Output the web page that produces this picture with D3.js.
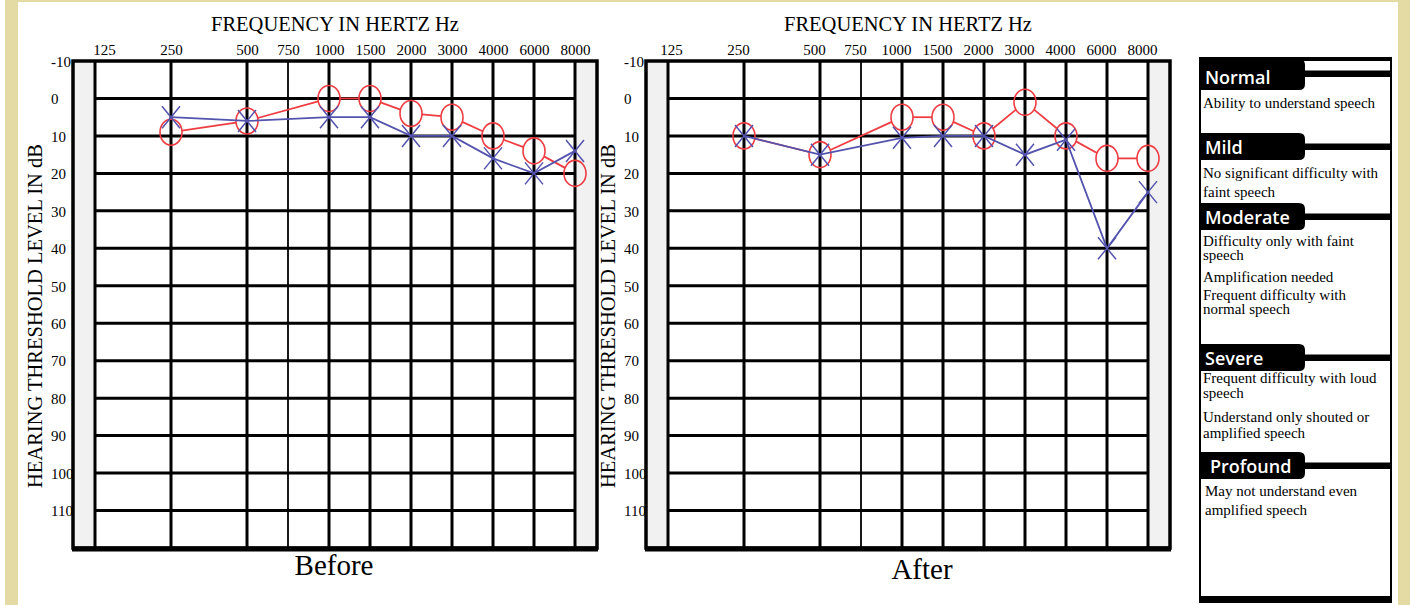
<!DOCTYPE html>
<html>
<head>
<meta charset="utf-8">
<script src="https://cdn.jsdelivr.net/npm/d3@7"></script>
<style>
  body { margin: 0; background: #fff; }
</style>
</head>
<body>
<div id="viz"></div>
<script>
// audiogram frequencies (x) and hearing level ticks (y)
var freqs = [125, 250, 500, 750, 1000, 1500, 2000, 3000, 4000, 6000, 8000];
var dbTicks = [-10, 0, 10, 20, 30, 40, 50, 60, 70, 80, 90, 100, 110];
var testFreqs = [250, 500, 1000, 1500, 2000, 3000, 4000, 6000, 8000];

// O = right ear (red), X = left ear (blue), in dB HL
var beforeRightEar = [9, 6, 0, 0, 4, 5, 10, 14, 20];
var beforeLeftEar = [5, 6, 5, 5, 10, 10, 16, 20, 14];
var afterRightEar = [10, 15, 5, 5, 10, 1, 10, 16, 16];
var afterLeftEar = [10, 15, 10.5, 10, 10, 15, 11, 40, 25];

// legend
var gradeNames = ["Normal", "Mild", "Moderate", "Severe", "Profound"];
var gradeNotes = [
    ["Ability to understand speech"],
    ["No significant difficulty with", "faint speech"],
    ["Difficulty only with faint", "speech", "Amplification needed", "Frequent difficulty with", "normal speech"],
    ["Frequent difficulty with loud", "speech", "Understand only shouted or", "amplified speech"],
    ["May not understand even", "amplified speech"]
];

var serif = "'Liberation Serif', 'Times New Roman', serif";
var red = "#ee3d42";
var blue = "#5353ae";
var beige = "#e3dba3";

var svg = d3.select("#viz").append("svg")
    .attr("width", 1410)
    .attr("height", 605);

svg.append("rect").attr("width", 1410).attr("height", 605).attr("fill", "#fff");
svg.append("rect").attr("x", 5).attr("y", 0).attr("width", 13).attr("height", 605).attr("fill", beige);
svg.append("rect").attr("x", 5).attr("y", 0).attr("width", 1405).attr("height", 2).attr("fill", beige);
svg.append("rect").attr("x", 1398).attr("y", 0).attr("width", 12).attr("height", 605).attr("fill", beige);

// half-octave frequencies sit midway between octaves
function octavePos(f) {
    var k = Math.log2(f / 125);
    if (Number.isInteger(k)) return k;
    return Math.log2(f / 1.5 / 125) + 0.5;
}

function drawAudiogram(gridLeft, labelShift, captionX, captionY, caption, rightEar, leftEar) {
    var x = d3.scaleLinear().domain([0, 2, 6]).range([gridLeft, gridLeft + 152, gridLeft + 480]);
    var y = d3.scaleLinear().domain([-10, 120]).range([61, 548]);
    var fx = function (f) { return x(octavePos(f)); };
    var frameL = gridLeft - 22, frameR = gridLeft + 502;
    var g = svg.append("g");

    // light side strips
    g.append("rect").attr("x", frameL).attr("y", y(-10)).attr("width", 22)
        .attr("height", y(120) - y(-10)).attr("fill", "#f1f1f1");
    g.append("rect").attr("x", fx(8000)).attr("y", y(-10)).attr("width", frameR - fx(8000))
        .attr("height", y(120) - y(-10)).attr("fill", "#f1f1f1");

    // grid
    g.append("g").selectAll("line")
        .data(dbTicks.filter(function (d) { return d >= 0; }))
        .join("line")
        .attr("x1", fx(125)).attr("x2", fx(8000))
        .attr("y1", function (d) { return y(d); })
        .attr("y2", function (d) { return y(d); })
        .attr("stroke", "#000").attr("stroke-width", 3);

    g.append("g").selectAll("line")
        .data(freqs)
        .join("line")
        .attr("x1", fx).attr("x2", fx)
        .attr("y1", y(-10)).attr("y2", y(120))
        .attr("stroke", "#000")
        .attr("stroke-width", function (d) { return d === 750 ? 1.8 : 3; });

    // frame
    g.append("rect").attr("x", frameL).attr("y", y(-10))
        .attr("width", frameR - frameL).attr("height", y(120) - y(-10))
        .attr("fill", "none").attr("stroke", "#000").attr("stroke-width", 3.5);
    g.append("line").attr("x1", frameL - 1).attr("x2", frameR + 1)
        .attr("y1", y(120) + 1).attr("y2", y(120) + 1)
        .attr("stroke", "#000").attr("stroke-width", 5);

    // frequency labels
    var xAxis = d3.axisTop(x)
        .tickValues(freqs.map(octavePos))
        .tickFormat(function (d, i) { return freqs[i]; })
        .tickSize(0).tickPadding(0);
    var xa = g.append("g").attr("transform", "translate(0,55)").call(xAxis);
    xa.select(".domain").remove();
    xa.selectAll("text")
        .attr("font-family", serif).attr("font-size", 15).attr("fill", "#000")
        .attr("x", function (d) { return labelShift + (d === 0 ? 9 : 0); });

    // dB labels
    var yAxis = d3.axisLeft(y).tickValues(dbTicks).tickSize(0)
        .tickFormat(function (d) { return String(d); });
    var ya = g.append("g").attr("transform", "translate(" + (frameL - 22) + ",0)").call(yAxis);
    ya.select(".domain").remove();
    ya.selectAll("text")
        .attr("font-family", serif).attr("font-size", 15).attr("fill", "#000")
        .attr("text-anchor", "start").attr("x", 0).attr("dy", "0.35em");

    // titles
    g.append("text").attr("x", (fx(125) + fx(8000)) / 2).attr("y", 31)
        .attr("text-anchor", "middle").attr("font-family", serif).attr("font-size", 20.5)
        .text("FREQUENCY IN HERTZ Hz");
    g.append("text")
        .attr("transform", "translate(" + (frameL - 38) + ",316) rotate(-90)")
        .attr("text-anchor", "middle").attr("dy", "0.35em")
        .attr("font-family", serif).attr("font-size", 20.5)
        .text("HEARING THRESHOLD LEVEL IN dB");
    g.append("text").attr("x", captionX).attr("y", captionY)
        .attr("text-anchor", "middle").attr("font-family", serif).attr("font-size", 29)
        .text(caption);

    // right ear: circles joined edge to edge
    var rx = 11, ry = 13;
    var rPts = testFreqs.map(function (f, i) { return [fx(f), y(rightEar[i])]; });
    var segs = d3.pairs(rPts).map(function (p) {
        var dx = p[1][0] - p[0][0], dy = p[1][1] - p[0][1];
        var t = 1 / Math.sqrt((dx / rx) * (dx / rx) + (dy / ry) * (dy / ry));
        return [p[0][0] + t * dx, p[0][1] + t * dy, p[1][0] - t * dx, p[1][1] - t * dy];
    });
    g.append("g").selectAll("line")
        .data(segs)
        .join("line")
        .attr("x1", function (s) { return s[0]; }).attr("y1", function (s) { return s[1]; })
        .attr("x2", function (s) { return s[2]; }).attr("y2", function (s) { return s[3]; })
        .attr("stroke", red).attr("stroke-width", 1.8);
    g.append("g").selectAll("ellipse")
        .data(rPts)
        .join("ellipse")
        .attr("cx", function (p) { return p[0]; }).attr("cy", function (p) { return p[1]; })
        .attr("rx", rx).attr("ry", ry)
        .attr("fill", "none").attr("stroke", red).attr("stroke-width", 1.6);

    // left ear: crosses
    var lPts = testFreqs.map(function (f, i) { return [fx(f), y(leftEar[i])]; });
    g.append("path")
        .attr("d", d3.line()(lPts))
        .attr("fill", "none").attr("stroke", blue).attr("stroke-width", 1.8);
    g.append("g").selectAll("path")
        .data(lPts)
        .join("path")
        .attr("d", function (p) {
            return "M" + (p[0] - 9) + "," + (p[1] - 11) + "L" + (p[0] + 9) + "," + (p[1] + 11) +
                   "M" + (p[0] - 9) + "," + (p[1] + 11) + "L" + (p[0] + 9) + "," + (p[1] - 11);
        })
        .attr("fill", "none").attr("stroke", blue).attr("stroke-width", 1.5);
}

drawAudiogram(95, 0, 334, 575, "Before", beforeRightEar, beforeLeftEar);
drawAudiogram(668, -6, 922, 579, "After", afterRightEar, afterLeftEar);

// legend panel
var boxL = 1199, boxR = 1392, tabW = 106, tabH = 27;
var tabTops = [59, 133, 203, 344, 452];
var noteBaselines = [[108], [178, 197], [246, 260, 282, 300, 314], [383, 398, 422, 438], [496, 515]];

svg.append("rect").attr("x", boxL + 1).attr("y", 59).attr("width", boxR - boxL - 2).attr("height", 540)
    .attr("fill", "#fff").attr("stroke", "#000").attr("stroke-width", 2);
svg.append("rect").attr("x", boxL).attr("y", 57).attr("width", boxR - boxL).attr("height", 4).attr("fill", "#000");
svg.append("rect").attr("x", boxL).attr("y", 596).attr("width", boxR - boxL).attr("height", 7).attr("fill", "#000");

function tabPath(x0, y0, w, h, r) {
    return "M" + x0 + "," + y0 + "H" + (x0 + w - r) + "Q" + (x0 + w) + "," + y0 + " " + (x0 + w) + "," + (y0 + r) +
        "V" + (y0 + h - r) + "Q" + (x0 + w) + "," + (y0 + h) + " " + (x0 + w - r) + "," + (y0 + h) + "H" + x0 + "Z";
}

gradeNames.forEach(function (name, i) {
    var top = tabTops[i];
    var h = i === 0 ? 31 : tabH;
    var mid = i === 0 ? 73.5 : top + tabH / 2;
    svg.append("path").attr("d", tabPath(boxL, top, tabW, h, 6)).attr("fill", "#000");
    svg.append("rect").attr("x", boxL + tabW - 2).attr("y", mid - 3).attr("width", boxR - boxL - tabW + 2)
        .attr("height", 6.5).attr("fill", "#000");
    svg.append("text").attr("x", i === 4 ? 1210 : 1205).attr("y", (i === 0 ? 63 : top) + 21)
        .attr("font-family", "'Open Sans', 'Noto Sans', sans-serif").attr("font-weight", 600)
        .attr("font-size", 18).attr("fill", "#fff").text(name);
    svg.append("g").selectAll("text")
        .data(gradeNotes[i])
        .join("text")
        .attr("x", i === 4 ? 1205 : 1203)
        .attr("y", function (d, j) { return noteBaselines[i][j]; })
        .attr("font-family", serif).attr("font-size", 15).attr("fill", "#000")
        .text(function (d) { return d; });
});
</script>
</body>
</html>
